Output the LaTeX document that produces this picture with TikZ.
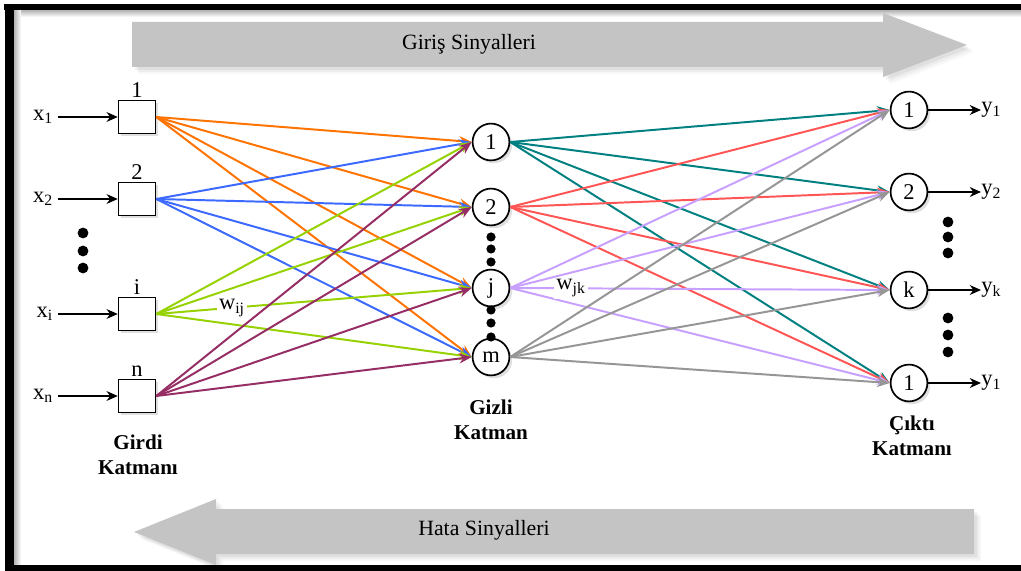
\documentclass[tikz,border=0pt]{standalone}
\usepackage{fontspec}
\setmainfont{Liberation Serif}
\usetikzlibrary{arrows.meta, positioning, shadows}

\definecolor{sigarrow}{RGB}{196,196,196}
\definecolor{wOrange}{RGB}{255,115,0}
\definecolor{wBlue}{RGB}{60,105,255}
\definecolor{wLime}{RGB}{150,210,0}
\definecolor{wPlum}{RGB}{150,45,100}
\definecolor{wTeal}{RGB}{0,128,128}
\definecolor{wRed}{RGB}{255,85,85}
\definecolor{wLilac}{RGB}{200,160,255}
\definecolor{wGray}{RGB}{150,150,150}

\begin{document}
\begin{tikzpicture}[
  x=0.025cm, y=-0.025cm,
  font=\fontsize{16}{19}\selectfont,
  nshadow/.style={drop shadow={shadow xshift=2pt, shadow yshift=-2pt, opacity=0.25}},
  inbox/.style={draw, line width=1.2pt, minimum width=0.92cm, minimum height=0.82cm, inner sep=0pt, fill=white, nshadow},
  neuron/.style={circle, draw, line width=1.2pt, minimum size=0.92cm, inner sep=0pt, fill=white, nshadow},
  bigdot/.style={circle, fill=black, minimum size=0.27cm, inner sep=0pt},
  feed/.style={-{Stealth[length=8pt, width=7pt]}, line width=1.2pt},
  weight/.style={-{Stealth[length=9pt, width=7pt]}, line width=1.4pt},
  signal/.style={font=\fontsize{15.5}{18}\selectfont},
  layer/.style={font=\fontsize{15}{18}\selectfont\bfseries, align=center},
  wlabel/.style={fill=white, inner sep=1.5pt},
]
  \useasboundingbox (0,0) rectangle (1021,571);
  \fill[white] (0,0) rectangle (1021,571);

  % --- frame ---
  \shade[top color=black!30, bottom color=white] (14,10) rectangle (1021,17);
  \shade[left color=black!30, right color=white] (14,10) rectangle (21,565);
  \fill[black] (4,4) rectangle (1021,10);
  \fill[black] (5,4) rectangle (14,571);
  \fill[black] (5,565) rectangle (1021,571);

  % --- forward signal arrow ---
  \foreach \s/\op in {7/0.03, 5/0.04, 3/0.05} {
    \fill[black, opacity=\op, shift={(\s,\s)}] (132,22) -- (883,22) -- (883,13) -- (967,45)
      -- (883,77) -- (883,67) -- (132,67) -- cycle;
  }
  \fill[sigarrow] (132,22) -- (883,22) -- (883,13) -- (967,45) -- (883,77) -- (883,67) -- (132,67) -- cycle;
  \node[signal] (giris) at (469,44) {Giriş Sinyalleri};

  % --- error signal arrow ---
  \foreach \s/\op in {7/0.03, 5/0.04, 3/0.05} {
    \fill[black, opacity=\op, shift={(\s,\s)}] (974,509) -- (216,509) -- (216,499) -- (134,532)
      -- (216,565) -- (216,554) -- (974,554) -- cycle;
  }
  \fill[sigarrow] (974,509) -- (216,509) -- (216,499) -- (134,532) -- (216,565) -- (216,554) -- (974,554) -- cycle;
  \node[signal] (hata) at (484,530) {Hata Sinyalleri};

  % --- input layer ---
  \foreach \n/\yy in {1/117, 2/199, i/314, n/396} {
    \node[inbox, label={[yshift=-2pt]above:\n}] (in\n) at (137,\yy) {};
    \node[anchor=east] (x\n) at (58,\yy) {x\textsubscript{\n}};
    \draw[feed] (x\n) -- (in\n);
  }
  \foreach \yy [count=\c] in {233,251,268}
    \node[bigdot] (indot\c) at (83,\yy) {};
  \node[layer] (girdi) at (138,455) {Girdi\\Katmanı};

  % --- hidden layer ---
  \foreach \n/\yy in {1/142, 2/207, j/288, m/357}
    \node[neuron] (hid\n) at (491,\yy) {\n};
  \foreach \yy [count=\c] in {237,249,262,310,323,337}
    \node[bigdot, minimum size=0.23cm] (hiddot\c) at (491,\yy) {};
  \node[layer] (gizli) at (491,420) {Gizli\\Katman};

  % --- output layer ---
  \foreach \n/\lab/\yy in {1/1/110, 2/2/192, k/k/290, l/1/383} {
    \node[neuron] (out\n) at (909,\yy) {\lab};
    \node[anchor=west, inner sep=0pt] (y\n) at (981,\yy) {y\textsubscript{\lab}};
    \draw[feed] (out\n) -- (y\n);
  }
  \foreach \yy [count=\c] in {222,237,253,318,335,352}
    \node[bigdot] (outdot\c) at (948,\yy) {};
  \node[layer] (cikti) at (912,436) {Çıktı\\Katmanı};

  % --- input -> hidden weights ---
  \foreach \i/\col in {1/wOrange, 2/wBlue, i/wLime} {
    \foreach \j in {1,2,j,m}
      \draw[weight, \col] (in\i.east) -- (hid\j.west);
  }
  \path (ini.east) -- (hidj.west) node[wlabel, pos=0.24] (wij) {w\textsubscript{ij}};
  \foreach \j in {1,2,j,m}
    \draw[weight, wPlum] (inn.east) -- (hid\j.west);

  % --- hidden -> output weights ---
  \foreach \j/\col in {1/wTeal, 2/wRed, j/wLilac} {
    \foreach \k in {1,2,k,l}
      \draw[weight, \col] (hid\j.east) -- (out\k.west);
  }
  \path (hidj.east) -- (outk.west) node[wlabel, pos=0.16] (wjk) {w\textsubscript{jk}};
  \foreach \k in {1,2,k,l}
    \draw[weight, wGray] (hidm.east) -- (out\k.west);
\end{tikzpicture}
\end{document}
